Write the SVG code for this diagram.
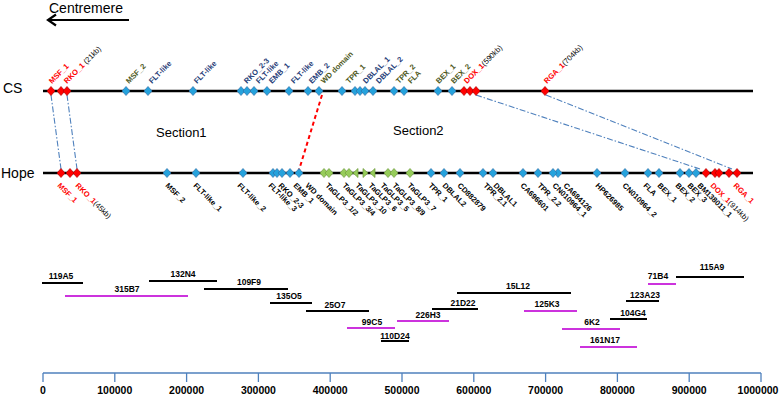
<svg xmlns="http://www.w3.org/2000/svg" xmlns:xlink="http://www.w3.org/1999/xlink" width="779" height="400" viewBox="0 0 779 400">
<defs>
<path id="dm" d="M0,-4.5L4,0L0,4.5L-4,0Z"/>
</defs>
<style>
text{font-family:"Liberation Sans",Arial,sans-serif;}
.big{font-size:14px;fill:#000;}
.sec{font-size:13px;fill:#000;}
.lab{font-size:7.6px;font-weight:bold;}
.kb{font-size:7.6px;font-weight:normal;fill:#000;}
.red{fill:#ff0000;}
.nav{fill:#1f3d78;}
.olv{fill:#4f5a1e;}
.blk{fill:#000;}
.b{fill:#25a2dc;stroke:#2f6fa8;stroke-width:0.7;}
.r{fill:#ff0000;stroke:#b00000;stroke-width:0.7;}
.g{fill:#96cc5a;stroke:#6e9a3c;stroke-width:0.7;}
.bac{font-size:8.5px;font-weight:bold;fill:#000;text-anchor:middle;}
.bk{stroke:#000;stroke-width:2;}
.mg{stroke:#cc33dd;stroke-width:2;}
.ax{font-size:10.5px;font-weight:bold;fill:#000;text-anchor:middle;}
.dd{stroke:#4f81bd;stroke-width:1.1;stroke-dasharray:6,2,1.5,2;fill:none;}
</style>

<g id="centromere">
<text class="big" x="49" y="13">Centremere</text>
<line x1="129" y1="20" x2="48" y2="20" stroke="#000" stroke-width="2.2"/>
<polyline points="56,14.5 48,20 56,25.5" fill="none" stroke="#000" stroke-width="2.2"/>
</g>

<text class="big" x="3" y="93">CS</text>
<text class="big" x="1" y="178">Hope</text>
<text class="sec" x="156" y="137">Section1</text>
<text class="sec" x="393" y="135">Section2</text>

<g id="chromosomes">
<line id="cs-line" x1="43" y1="91" x2="753" y2="91" stroke="#000" stroke-width="2.5"/>
<line id="hope-line" x1="43" y1="173" x2="753" y2="173" stroke="#000" stroke-width="2.5"/>
</g>

<g id="connectors">
<line class="dd" x1="51" y1="95" x2="61" y2="169"/>
<line class="dd" x1="67" y1="95" x2="77" y2="169"/>
<line class="dd" x1="476" y1="95" x2="700" y2="169"/>
<line class="dd" x1="546" y1="95" x2="732" y2="169"/>
<line x1="322" y1="95" x2="299" y2="170" stroke="#ff0000" stroke-width="2" stroke-dasharray="4,3"/>
</g>

<g id="cs-markers" transform="translate(0,91)">
<use href="#dm" class="r" x="51"/><use href="#dm" class="r" x="61"/><use href="#dm" class="r" x="67"/>
<use href="#dm" class="b" x="126"/><use href="#dm" class="b" x="148"/><use href="#dm" class="b" x="193"/>
<use href="#dm" class="b" x="241"/><use href="#dm" class="b" x="247"/><use href="#dm" class="b" x="254"/>
<use href="#dm" class="b" x="267"/><use href="#dm" class="b" x="289"/><use href="#dm" class="b" x="308"/>
<use href="#dm" class="b" x="319"/><use href="#dm" class="b" x="342"/><use href="#dm" class="b" x="355"/>
<use href="#dm" class="b" x="360"/><use href="#dm" class="b" x="365"/><use href="#dm" class="b" x="373"/>
<use href="#dm" class="b" x="394"/><use href="#dm" class="b" x="404"/><use href="#dm" class="b" x="438"/>
<use href="#dm" class="b" x="452"/>
<use href="#dm" class="r" x="464"/><use href="#dm" class="r" x="470"/><use href="#dm" class="r" x="476"/>
<use href="#dm" class="r" x="545"/>
</g>

<g id="cs-labels" class="lab">
<text class="red" transform="translate(52,84) rotate(-45)">MSF_1</text>
<text transform="translate(67,84) rotate(-45)"><tspan class="red">RKO_1</tspan><tspan class="kb"> (21kb)</tspan></text>
<text class="olv" transform="translate(129,84) rotate(-45)">MSF_2</text>
<text class="nav" transform="translate(152,84) rotate(-45)">FLT-like</text>
<text class="nav" transform="translate(197,84) rotate(-45)">FLT-like</text>
<text class="nav" transform="translate(247,84) rotate(-45)">RKO_2-3</text>
<text class="nav" transform="translate(259,84) rotate(-45)">FLT-like</text>
<text class="nav" transform="translate(272,84) rotate(-45)">EMB_1</text>
<text class="nav" transform="translate(294,84) rotate(-45)">FLT-like</text>
<text class="nav" transform="translate(312,84) rotate(-45)">EMB_2</text>
<text class="olv" transform="translate(324,84) rotate(-45)">WD domain</text>
<text class="olv" transform="translate(349,84) rotate(-45)">TPR_1</text>
<text class="nav" transform="translate(366,84) rotate(-45)">DBLAL_1</text>
<text class="nav" transform="translate(379,84) rotate(-45)">DBLAL_2</text>
<text class="olv" transform="translate(399,84) rotate(-45)">TPR_2</text>
<text class="olv" transform="translate(411,84) rotate(-45)">FLA</text>
<text class="olv" transform="translate(439,84) rotate(-45)">BEX_1</text>
<text class="olv" transform="translate(454,84) rotate(-45)">BEX_2</text>
<text transform="translate(467,84) rotate(-45)"><tspan class="red">DOX_1</tspan><tspan class="kb">(590kb)</tspan></text>
<text transform="translate(547,84) rotate(-45)"><tspan class="red">RGA_1</tspan><tspan class="kb">(704kb)</tspan></text>
</g>

<g id="hope-markers" transform="translate(0,173)">
<use href="#dm" class="r" x="61"/><use href="#dm" class="r" x="70"/><use href="#dm" class="r" x="77"/>
<use href="#dm" class="b" x="167"/><use href="#dm" class="b" x="196"/><use href="#dm" class="b" x="243"/>
<use href="#dm" class="b" x="273"/><use href="#dm" class="b" x="277"/><use href="#dm" class="b" x="282"/>
<use href="#dm" class="b" x="290"/><use href="#dm" class="b" x="299"/>
<use href="#dm" class="g" x="324"/><use href="#dm" class="g" x="329"/><use href="#dm" class="g" x="344"/><use href="#dm" class="g" x="349"/>
<polygon class="g" points="353,0 358,-4.5 358,4.5"/>
<polygon class="g" points="368,0 363,-4.5 363,4.5"/>
<polygon class="g" points="370,0 375,-4.5 375,4.5"/>
<use href="#dm" class="g" x="388"/><use href="#dm" class="g" x="394"/><use href="#dm" class="g" x="410"/>
<use href="#dm" class="b" x="431"/><use href="#dm" class="b" x="444"/><use href="#dm" class="b" x="460"/>
<use href="#dm" class="b" x="483"/><use href="#dm" class="b" x="493"/><use href="#dm" class="b" x="523"/>
<use href="#dm" class="b" x="538"/><use href="#dm" class="b" x="558"/><use href="#dm" class="b" x="553"/>
<use href="#dm" class="b" x="597"/><use href="#dm" class="b" x="625"/><use href="#dm" class="b" x="648"/>
<use href="#dm" class="b" x="659"/><use href="#dm" class="b" x="680"/><use href="#dm" class="b" x="689"/>
<use href="#dm" class="b" x="696"/>
<use href="#dm" class="r" x="706"/><use href="#dm" class="r" x="715"/><use href="#dm" class="r" x="719"/>
<use href="#dm" class="r" x="729"/><use href="#dm" class="r" x="737"/>
</g>

<g id="hope-labels" class="lab blk">
<text class="red" transform="translate(57,186) rotate(45)">MSF_1</text>
<text transform="translate(75,186) rotate(45)"><tspan class="red">RKO_1</tspan><tspan class="kb">(45kb)</tspan></text>
<text transform="translate(165,186) rotate(45)">MSF_2</text>
<text transform="translate(193,186) rotate(45)">FLT-like_1</text>
<text transform="translate(237,186) rotate(45)">FLT-like_2</text>
<text transform="translate(268,186) rotate(45)">FLT-like_3</text>
<text transform="translate(278,186) rotate(45)">RKO_2-3</text>
<text transform="translate(293,186) rotate(45)">EMB_1</text>
<text transform="translate(305,186) rotate(45)">WD domain</text>
<text transform="translate(325,186) rotate(45)">TaGLP3_1/2</text>
<text transform="translate(342,186) rotate(45)">TaGLP3_3/4</text>
<text transform="translate(355,186) rotate(45)">TaGLP3_10</text>
<text transform="translate(368,186) rotate(45)">TaGLP3_6</text>
<text transform="translate(380,186) rotate(45)">TaGLP3_5</text>
<text transform="translate(392,186) rotate(45)">TaGLP3_8/9</text>
<text transform="translate(407,186) rotate(45)">TaGLP3_7</text>
<text transform="translate(428,186) rotate(45)">TPR_1</text>
<text transform="translate(442,186) rotate(45)">DBLAL2</text>
<text transform="translate(457,186) rotate(45)">CD882879</text>
<text transform="translate(483,186) rotate(45)">TPR_2.1</text>
<text transform="translate(493,186) rotate(45)">DBLAL1</text>
<text transform="translate(520,186) rotate(45)">CA696601</text>
<text transform="translate(537,186) rotate(45)">TPR_2.2</text>
<text transform="translate(552,186) rotate(45)">CN010964_1</text>
<text transform="translate(563,186) rotate(45)">CA684126</text>
<text transform="translate(595,186) rotate(45)">HP626985</text>
<text transform="translate(622,186) rotate(45)">CN010964_2</text>
<text transform="translate(643,186) rotate(45)">FLA</text>
<text transform="translate(657,186) rotate(45)">BEX_1</text>
<text transform="translate(675,186) rotate(45)">BEX_2</text>
<text transform="translate(687,186) rotate(45)">BEX_3</text>
<text transform="translate(697,186) rotate(45)">BM138011_1</text>
<text transform="translate(710,186) rotate(45)"><tspan class="red">DOX_1</tspan><tspan class="kb">(914kb)</tspan></text>
<text class="red" transform="translate(733,186) rotate(45)">RGA_1</text>
</g>

<g id="bacs">
<g id="bac-119A5"><line class="bk" x1="42" y1="283" x2="83" y2="283"/><text class="bac" x="61" y="279">119A5</text></g>
<g id="bac-315B7"><line class="mg" x1="65" y1="296" x2="188" y2="296"/><text class="bac" x="127" y="292">315B7</text></g>
<g id="bac-132N4"><line class="bk" x1="149" y1="281" x2="217" y2="281"/><text class="bac" x="183" y="277">132N4</text></g>
<g id="bac-109F9"><line class="bk" x1="204" y1="289" x2="288" y2="289"/><text class="bac" x="249" y="285">109F9</text></g>
<g id="bac-135O5"><line class="bk" x1="270" y1="303" x2="312" y2="303"/><text class="bac" x="289" y="299">135O5</text></g>
<g id="bac-25O7"><line class="bk" x1="306" y1="311" x2="369" y2="311"/><text class="bac" x="335" y="308">25O7</text></g>
<g id="bac-99C5"><line class="mg" x1="347" y1="328" x2="395" y2="328"/><text class="bac" x="372" y="325">99C5</text></g>
<g id="bac-110D24"><line class="bk" x1="381" y1="341" x2="409" y2="341"/><text class="bac" x="395" y="339">110D24</text></g>
<g id="bac-226H3"><line class="mg" x1="397" y1="321" x2="449" y2="321"/><text class="bac" x="428" y="318">226H3</text></g>
<g id="bac-21D22"><line class="bk" x1="432" y1="309" x2="478" y2="309"/><text class="bac" x="463" y="306">21D22</text></g>
<g id="bac-15L12"><line class="bk" x1="457" y1="293" x2="571" y2="293"/><text class="bac" x="518" y="289">15L12</text></g>
<g id="bac-125K3"><line class="mg" x1="524" y1="311" x2="577" y2="311"/><text class="bac" x="547" y="307">125K3</text></g>
<g id="bac-6K2"><line class="mg" x1="562" y1="329" x2="620" y2="329"/><text class="bac" x="592" y="325">6K2</text></g>
<g id="bac-161N17"><line class="mg" x1="580" y1="347" x2="637" y2="347"/><text class="bac" x="605" y="343">161N17</text></g>
<g id="bac-104G4"><line class="bk" x1="610" y1="319" x2="647" y2="319"/><text class="bac" x="633" y="316">104G4</text></g>
<g id="bac-123A23"><line class="bk" x1="626" y1="301" x2="659" y2="301"/><text class="bac" x="645" y="298">123A23</text></g>
<g id="bac-71B4"><line class="mg" x1="648" y1="284" x2="676" y2="284"/><text class="bac" x="658" y="279">71B4</text></g>
<g id="bac-115A9"><line class="bk" x1="676" y1="277" x2="744" y2="277"/><text class="bac" x="712" y="270">115A9</text></g>
</g>

<g id="axis">
<line x1="43" y1="373" x2="761" y2="373" stroke="#4f81bd" stroke-width="1.5"/>
<g stroke="#4f81bd" stroke-width="1.3">
<line x1="43" y1="373" x2="43" y2="382"/><line x1="114.8" y1="373" x2="114.8" y2="382"/>
<line x1="186.6" y1="373" x2="186.6" y2="382"/><line x1="258.4" y1="373" x2="258.4" y2="382"/>
<line x1="330.2" y1="373" x2="330.2" y2="382"/><line x1="402" y1="373" x2="402" y2="382"/>
<line x1="473.8" y1="373" x2="473.8" y2="382"/><line x1="545.6" y1="373" x2="545.6" y2="382"/>
<line x1="617.4" y1="373" x2="617.4" y2="382"/><line x1="689.2" y1="373" x2="689.2" y2="382"/>
<line x1="761" y1="373" x2="761" y2="382"/>
</g>
<text class="ax" x="43" y="394">0</text>
<text class="ax" x="114.8" y="394">100000</text>
<text class="ax" x="186.6" y="394">200000</text>
<text class="ax" x="258.4" y="394">300000</text>
<text class="ax" x="330.2" y="394">400000</text>
<text class="ax" x="402" y="394">500000</text>
<text class="ax" x="473.8" y="394">600000</text>
<text class="ax" x="545.6" y="394">700000</text>
<text class="ax" x="617.4" y="394">800000</text>
<text class="ax" x="689.2" y="394">900000</text>
<text class="ax" x="758" y="394">1000000</text>
</g>
</svg>
